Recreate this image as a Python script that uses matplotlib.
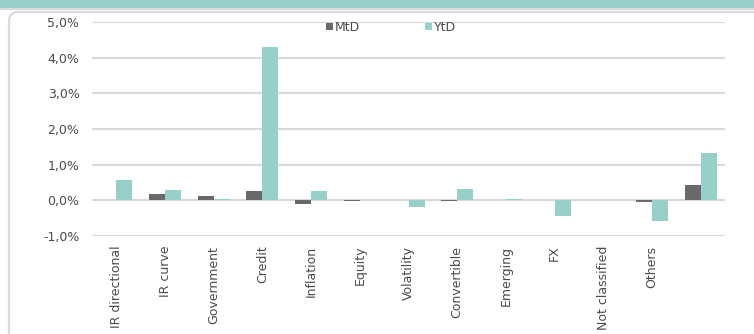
import numpy as np
import matplotlib
matplotlib.use("Agg")
import matplotlib.pyplot as plt
from matplotlib.patches import FancyBboxPatch, Rectangle
from matplotlib.ticker import FuncFormatter

# contribution by strategy, in %
categories = ["IR directional", "IR curve", "Government", "Credit", "Inflation",
              "Equity", "Volatility", "Convertible", "Emerging", "FX",
              "Not classified", "Others", ""]
mtd = [0.00, 0.18, 0.12, 0.27, -0.10, -0.01, 0.00, -0.01, 0.00, 0.00, 0.00, -0.05, 0.44]
ytd = [0.58, 0.30, 0.03, 4.30, 0.27, 0.00, -0.20, 0.33, 0.03, -0.45, 0.00, -0.58, 1.34]

MTD_COLOR = "#696969"
YTD_COLOR = "#98d0c9"
GRID_COLOR = "#d9d9d9"
TEXT_COLOR = "#4a4a4a"

plt.rcParams["font.family"] = ["DejaVu Sans"]

W, H = 754, 334
fig = plt.figure(figsize=(W / 100, H / 100), dpi=100)

# background layer in pixel units: header band and rounded panel outline
bg = fig.add_axes([0, 0, 1, 1], zorder=0)
bg.set_xlim(0, W)
bg.set_ylim(H, 0)
bg.axis("off")
bg.add_patch(Rectangle((0, 0), W, 8, facecolor="#98cfcb", edgecolor="none"))
bg.add_patch(Rectangle((0, 8), W, 2, facecolor=GRID_COLOR, edgecolor="none"))
bg.add_patch(FancyBboxPatch((9, 12), W + 40, H + 40,
                            boxstyle="round,pad=0,rounding_size=9",
                            facecolor="none", edgecolor=GRID_COLOR, linewidth=1.6))

ax = fig.add_axes([92 / W, 1 - 236 / H, (725 - 92) / W, (236 - 22) / H], zorder=1)
ax.patch.set_alpha(0)

x = np.arange(len(categories))
w = 0.33
ax.bar(x - w / 2, mtd, w, color=MTD_COLOR, label="MtD", zorder=3)
ax.bar(x + w / 2, ytd, w, color=YTD_COLOR, label="YtD", zorder=3)

ax.set_xlim(-0.5, len(categories) - 0.5)
ax.set_ylim(-1, 5)
ax.set_yticks(np.arange(-1, 6, 1))
ax.yaxis.set_major_formatter(FuncFormatter(lambda v, _: f"{v:.1f}%".replace(".", ",")))
ax.set_xticks(x)
ax.set_xticklabels(categories, rotation=90, va="top", ha="center")
ax.tick_params(axis="both", length=0, colors=TEXT_COLOR, labelsize=9)
ax.tick_params(axis="y", pad=9)
ax.tick_params(axis="x", pad=7)
ax.grid(axis="y", color=GRID_COLOR, linewidth=1.5, zorder=0)
for s in ax.spines.values():
    s.set_visible(False)

leg = ax.legend(ncol=2, loc="center", bbox_to_anchor=(0.472, 0.975), frameon=False,
                handlelength=0.55, handleheight=0.55, handletextpad=0.15,
                columnspacing=5.2, fontsize=9, borderaxespad=0)
for t in leg.get_texts():
    t.set_color(TEXT_COLOR)

fig.savefig("out.png", dpi=100)
